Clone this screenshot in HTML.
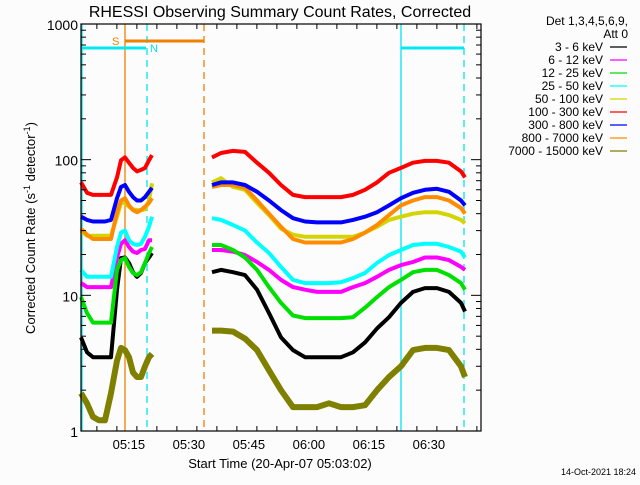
<!DOCTYPE html>
<html><head><meta charset="utf-8"><style>
body{margin:0;background:#fcfcfc;}
svg text{font-family:"Liberation Sans",sans-serif;}
</style></head><body>
<svg id="chart" width="640" height="480" xmlns="http://www.w3.org/2000/svg">
<rect width="640" height="480" fill="#fcfcfc"/>
<text x="280" y="17" font-size="16" text-anchor="middle">RHESSI Observing Summary Count Rates, Corrected</text>
<text transform="translate(35,228) rotate(-90)" font-size="13" text-anchor="middle">Corrected Count Rate (s<tspan font-size="9" dy="-5">-1</tspan><tspan dy="5"> detector</tspan><tspan font-size="9" dy="-5">-1</tspan><tspan dy="5">)</tspan></text>
<text x="280" y="468" font-size="13" text-anchor="middle">Start Time (20-Apr-07 05:03:02)</text>
<text x="636" y="475" font-size="9" text-anchor="end">14-Oct-2021 18:24</text>
<g id="marks"></g>
<g id="axes"></g>
<g id="legend"></g>
</svg>
<script>
const times = [0,1.5,3,4.5,6,7.5,9,10,11,12,13,14,15,16,17,17.75,null,32.75,35,38,41,44,47,50,53,56,59,62,65,68,71,74,77,80,83,86,89,92,95,96];
const red = [68,57,55,55,55,55,74,99,104,95,87,82,84,87,99,108,null,104,112,116,114,95,80,65,55,53,53,53,53,55,60,68,80,87,95,98,98,95,82,74];
const blue = [38,36,35,35,35,36,52,63,65,58,53,50,50,53,58,62,null,65,68,68,65,58,50,42.5,37,35,34.5,34.5,34.5,36,38,41,46,52,57,60,61,58,50,46];
const orange = [31,28,26,26,26,26,41,50,52,46,42.5,41,42.5,45,48,52,null,63,65,65,62,50,40,32,26,24.5,24.5,24.5,24.5,26,29,33,39,46,50,53,53,50,44,40];
const yellow = [30,27.5,27.5,27.5,27.5,27.5,38,48,48,45,43,42.5,42.5,43,50,67,null,68,73,63,60,48,39,31,28,27,27,27,27,27,29,32,36,38,40,41,41,39,36,34];
const cyan = [15.4,13.7,13.7,13.7,13.7,13.7,22.7,29,30,25.5,24,23.5,24,27,32,38,null,37,36,33,30,24.5,20.5,16.2,13,12.3,12.3,12.3,12.5,13.4,14.6,17.3,19.8,21.6,23.5,24,24,22.7,21,19];
const magenta = [12.3,11.5,11.5,11.5,11.5,11.5,19,24,25.5,22.7,21,20.5,21.6,22,25.5,25.5,null,21.6,21.6,21,19.8,17.6,15.4,13,11.5,11,10.6,10.6,10.6,11.5,12.3,13.7,15.4,16.7,17.6,19,19,18.2,16.2,15.4];
const green = [9.7,7.4,6.3,6.3,6.3,6.3,15.4,18.2,18.8,16.2,14.6,14.1,14.8,17.3,20.5,22.7,null,23.5,23.5,21.6,19,15.4,11.5,8.8,7.1,6.8,6.8,6.8,6.8,6.9,8.1,9.7,11.5,13,14.8,15.4,15.4,14.1,12.3,11];
const black = [4.9,3.8,3.5,3.5,3.5,3.5,11,18.8,19,17.3,14.8,13.7,14.6,17.3,19,20.5,null,14.8,15.4,14.8,14.1,11,7.4,4.9,3.95,3.5,3.5,3.5,3.5,3.8,4.5,5.7,6.9,8.8,10.6,11.3,11.3,10.6,8.8,7.6];
const olive = [1.9,1.6,1.27,1.2,1.2,1.9,3.3,4.1,3.95,3.5,2.7,2.5,2.5,3.0,3.5,3.7,null,5.5,5.5,5.4,4.8,3.95,2.8,2.0,1.5,1.5,1.5,1.6,1.5,1.5,1.55,2.0,2.5,3.0,3.95,4.1,4.1,3.95,3.0,2.5];
const xTickLabels = ["05:15","05:30","05:45","06:00","06:15","06:30"];
const xTickMinutes = [11.97,26.97,41.97,56.97,71.97,86.97];
const yTickValues = [1,10,100,1000];
const yTickLabels = ["1","10","100","1000"];
const legendLabels = ["3 - 6 keV","6 - 12 keV","12 - 25 keV","25 - 50 keV","50 - 100 keV","100 - 300 keV","300 - 800 keV","800 - 7000 keV","7000 - 15000 keV"];

const NS="http://www.w3.org/2000/svg";
const X0=81,X1=481,Y0=24,Y1=431;
const xs=t=>X0+(t/100)*(X1-X0);
const ys=v=>Y1-(Math.log10(v)/3)*(Y1-Y0);
function mk(tag,attrs,parent){const e=document.createElementNS(NS,tag);for(const k in attrs)e.setAttribute(k,attrs[k]);parent.appendChild(e);return e;}
const marks=document.getElementById('marks'),axes=document.getElementById('axes'),legend=document.getElementById('legend');

// markers
function vline(x,color,dash,name){const l=mk('line',{x1:x,x2:x,y1:Y0,y2:Y1,stroke:color,'stroke-width':1.3,'stroke-dasharray':dash||'none'},marks);

}
vline(82,'#00e8f0',null,'saa-start-line');
vline(125,'#f08000',null,'flare-start-line');
vline(147,'#00e8f0','7,5','night-start-line');
vline(204,'#f08000','7,5','flare-end-line');
vline(401,'#00e8f0',null,'saa-start-line-2');
vline(464,'#00e8f0','7,5','night-start-line-2');
function hbar(x1,x2,y,color,name){const l=mk('line',{x1:x1,x2:x2,y1:y,y2:y,stroke:color,'stroke-width':3},marks);

}
hbar(82,146,48,'#00e8f0','night-bar');
hbar(125,204,41,'#f08000','flare-bar');
hbar(401,464,48,'#00e8f0','night-bar-2');
const tS=mk('text',{x:112,y:45,'font-size':11,fill:'#f08000'},marks);tS.textContent='S';


const tN=mk('text',{x:150,y:52,'font-size':11,fill:'#00e8f0'},marks);tN.textContent='N';



const series=[["olive",olive,"#808000"],["black",black,"#000"],["magenta",magenta,"#ff00ff"],["green",green,"#00e000"],["cyan",cyan,"#00ffff"],["yellow",yellow,"#d4d400"],["orange",orange,"#ff8c00"],["blue",blue,"#0000ff"],["red",red,"#ff0000"]];
series.forEach(([nm,vals,col])=>{
  let d='',pen=false;
  for(let i=0;i<times.length;i++){
    if(times[i]===null||vals[i]===null){pen=false;continue;}
    d+=(pen?'L':'M')+xs(times[i]).toFixed(1)+','+ys(vals[i]).toFixed(1);pen=true;
  }
  const p=mk('path',{d:d,fill:'none',stroke:col,'stroke-width':nm==='olive'?6:4,'stroke-linejoin':'round'},marks);
  
  
});

// axes frame
const fr=mk('rect',{x:X0,y:Y0,width:X1-X0,height:Y1-Y0,fill:'none',stroke:'#000','stroke-width':1.2},axes);


// x ticks
for(let m=-3;m<=100;m+=5){const t=m+1.97;if(t<0||t>100)continue;const x=xs(t);const major=xTickMinutes.some(v=>Math.abs(v-t)<0.01);const L=major?10:5;
 mk('line',{x1:x,x2:x,y1:Y1,y2:Y1-L,stroke:'#000'},axes);mk('line',{x1:x,x2:x,y1:Y0,y2:Y0+L,stroke:'#000'},axes);}
xTickLabels.forEach((lab,i)=>{const t=mk('text',{x:xs(xTickMinutes[i]),y:449,'font-size':13,'text-anchor':'middle'},axes);t.textContent=lab;
 
 });
// y ticks
for(let dec=0;dec<3;dec++){for(let k=1;k<10;k++){const v=k*Math.pow(10,dec);const y=ys(v);const L=k===1?10:5;
 mk('line',{x1:X0,x2:X0+L,y1:y,y2:y,stroke:'#000'},axes);mk('line',{x1:X1,x2:X1-L,y1:y,y2:y,stroke:'#000'},axes);}}
yTickValues.forEach((v,i)=>{const t=mk('text',{x:78,y:ys(v)+6,'font-size':14,'text-anchor':'end'},axes);t.textContent=yTickLabels[i];
 
 });

// legend
const h1=mk('text',{x:628,y:25,'font-size':12,'text-anchor':'end'},legend);h1.textContent='Det 1,3,4,5,6,9,';


const h2=mk('text',{x:628,y:38,'font-size':12,'text-anchor':'end'},legend);h2.textContent='Att 0';


const legCols=["#000","#ff00ff","#00e000","#00ffff","#d4d400","#ff0000","#0000ff","#ff8c00","#808000"];
legendLabels.forEach((lab,i)=>{const y=51+i*13;
 const t=mk('text',{x:603,y:y,'font-size':12,'text-anchor':'end'},legend);t.textContent=lab;
 
 
 const l=mk('line',{x1:610,x2:627,y1:y-4,y2:y-4,stroke:legCols[i],'stroke-width':1.3},legend);
 
 });
</script>
</body></html>
